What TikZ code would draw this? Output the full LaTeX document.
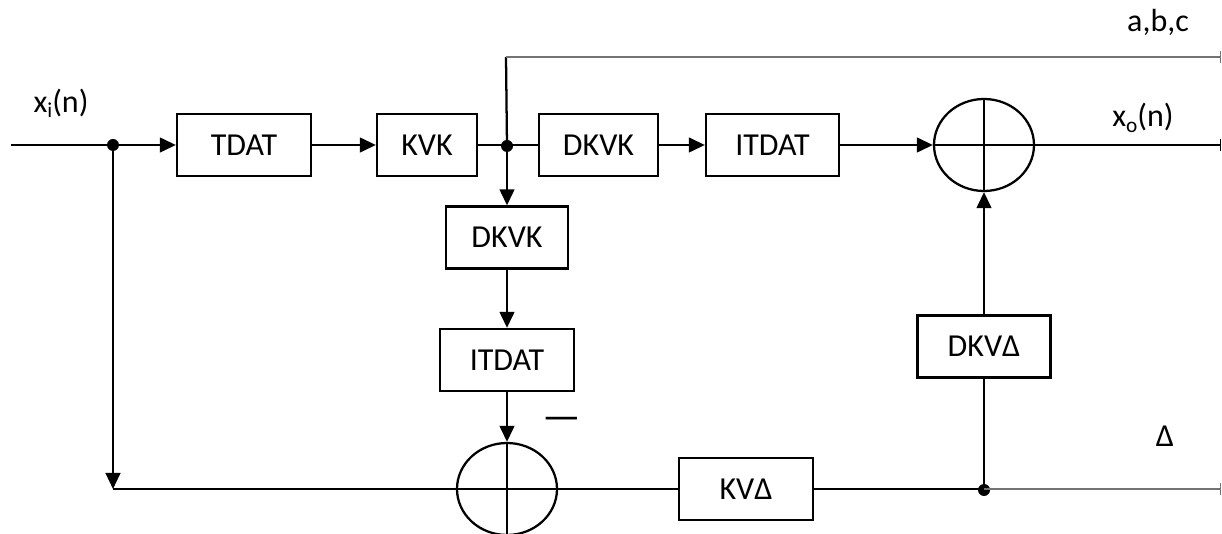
\documentclass[tikz,border=0pt]{standalone}
\usepackage{fontspec}
\setmainfont{Carlito}
\usetikzlibrary{arrows.meta,shapes.geometric}
\newcommand\lowsub[1]{\raisebox{-0.35ex}{\fontsize{16}{16}\selectfont #1}}
\begin{document}
\begin{tikzpicture}[x=0.75pt,y=-0.75pt,
  line width=1.7pt,
  blk/.style={draw, rectangle, inner sep=0pt, minimum height=46.5pt, font=\fontsize{24}{28}\selectfont},
  summer/.style={draw, ellipse, inner sep=0pt, minimum width=75pt, minimum height=69pt},
  arr/.style={-{Triangle[length=12pt,width=11pt]}},
  dot/.style={circle, fill, inner sep=0pt, minimum size=9pt},
  lbl/.style={font=\fontsize{24}{28}\selectfont, inner sep=0pt},
  thinline/.style={line width=1.1pt, draw=black!55},
  tick/.style={-{Bar[width=9pt,line width=1.1pt]}}
]
\useasboundingbox (0,0) rectangle (1222,534);

% blocks
\node[blk, minimum width=100.5pt] (tdat) at (244,145) {TDAT};
\node[blk, minimum width=75pt] (kvk) at (427,145) {KVK};
\node[blk, minimum width=89.25pt] (dkvk1) at (598.5,145) {DKVK};
\node[blk, minimum width=99.75pt] (itdat1) at (772.5,145) {ITDAT};
\node[summer] (sum1) at (984,145) {};
\node[blk, minimum width=91.5pt] (dkvk2) at (507,237.5) {DKVK};
\node[blk, minimum width=100.5pt] (itdat2) at (507,360) {ITDAT};
\node[summer] (sum2) at (507,489) {};
\node[blk, minimum width=100.5pt] (kvd) at (746,489) {KVΔ};
\node[blk, minimum width=99.75pt] (dkvd) at (984,346.5) {DKVΔ};

% junctions and free ends
\coordinate (in) at (11,145);
\node[dot] (j1) at (113,145) {};
\node[dot] (j2) at (507,146) {};
\node[dot] (j3) at (984,490) {};
\coordinate (bl) at (113,489);
\coordinate (top) at (506,57);
\coordinate (abcend) at (1221,57);
\coordinate (outend) at (1221,145);
\coordinate (dend) at (1221,489);

% connectors
\draw (in) -- (j1.center);
\draw[arr] (j1.center) -- (tdat.west);
\draw[arr] (tdat) -- (kvk);
\draw (kvk.east) -- (507,145) -- (dkvk1.west);
\draw[arr] (dkvk1) -- (itdat1);
\draw[arr] (itdat1.east) -- (sum1.west);
\draw[tick] (sum1.east) -- (outend);
\draw (sum1.north) -- (sum1.south);
\draw (sum1.west) -- (sum1.east);
\draw (j2.center) -- (top);
\draw[thinline, tick] (top) -- (abcend);
\draw[arr] (j2.center) -- (dkvk2.north);
\draw[arr] (dkvk2) -- (itdat2);
\draw[arr] (itdat2.south) -- (sum2.north);
\draw (sum2.north) -- (sum2.south);
\draw (sum2.west) -- (sum2.east);
\draw[arr] (j1.center) -- (bl);
\draw (bl) -- (sum2.west);
\draw (sum2.east) -- (kvd.west);
\draw (kvd.east) -- (984,489);
\draw (j3.center) -- (dkvd.south);
\draw[arr] (dkvd.north) -- (sum1.south);
\draw[thinline, tick] (984,489) -- (dend);

% labels
\node[lbl] (xi) at (61,103) {x\lowsub{i}(n)};
\node[lbl] (abc) at (1158,22) {a,b,c};
\node[lbl] (xo) at (1143,118) {x\lowsub{o}(n)};
\node[lbl] (delta) at (1165,436) {Δ};
\node[lbl, font=\fontsize{32}{32}\selectfont] (minus) at (562,424) {—};
\end{tikzpicture}
\end{document}
